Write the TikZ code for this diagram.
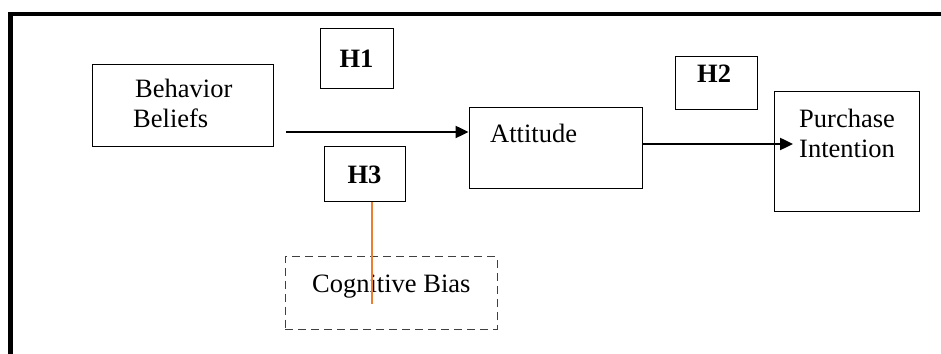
\documentclass[tikz,border=0pt]{standalone}
\usepackage{fontspec}
\setmainfont{Liberation Serif}
\usetikzlibrary{arrows.meta,calc}

\newcommand\figsize{\fontsize{26.5}{30.5}\selectfont}
\tikzset{box/.style={draw,line width=1pt,inner sep=0pt},
	hyp/.style={box,font=\figsize\bfseries},
	txt/.style={anchor=base west,inner sep=0pt,align=left},
	link/.style={line width=2.4pt,-{Triangle[length=13pt,width=12pt]}}}

\begin{document}
\begin{tikzpicture}[x=1pt,y=1pt,font=\figsize]
	\useasboundingbox (0,0) rectangle (941,353);
	\draw[line width=4.5pt] (960,339) -- (10.5,339) -- (10.5,-10);

	 \node[box,minimum width=181,minimum height=82](beliefs) at (182.5,247){};
	 \node[txt](beliefs-txt) at (133,225){\hspace{2pt}Behavior\\Beliefs};
	 \node[box,minimum width=173,minimum height=81](attitude) at (555.5,204.5){};
	 \node[txt](attitude-txt) at (490,210){Attitude};
	 \node[box,minimum width=145,minimum height=120](intention) at (846.5,201){};
	 \node[txt](intention-txt) at (799,195){Purchase\\Intention};
	 \node[box,dashed,dash pattern=on 8pt off 5pt,draw=black!75,minimum width=212,minimum height=72](bias) at (391,60){};
	 \node[txt](bias-txt) at (312,60){Cognitive Bias};

	 \node[hyp,minimum width=73,minimum height=60](h1) at (356.5,294){H1};
	 \node[hyp,minimum width=82,minimum height=53](h2) at (716,269.5){};
	 \node[txt,font=\figsize\bfseries](h2-txt) at (697,270){H2};
	 \node[hyp,minimum width=81,minimum height=55](h3) at (364.5,178.5){H3};

		\coordinate (beliefs-out) at (286,221);
		\coordinate (intention-in) at (793,209);
		\draw[link](beliefs-out) -- (beliefs-out-|attitude.west);
		\draw[link](intention-in-|attitude.east) -- (intention-in);
		\draw[line width=2pt,draw={rgb,255:red,237;green,125;blue,49}]
			(h3.south-|372,0) -- (372,49);

\end{tikzpicture}
\end{document}
